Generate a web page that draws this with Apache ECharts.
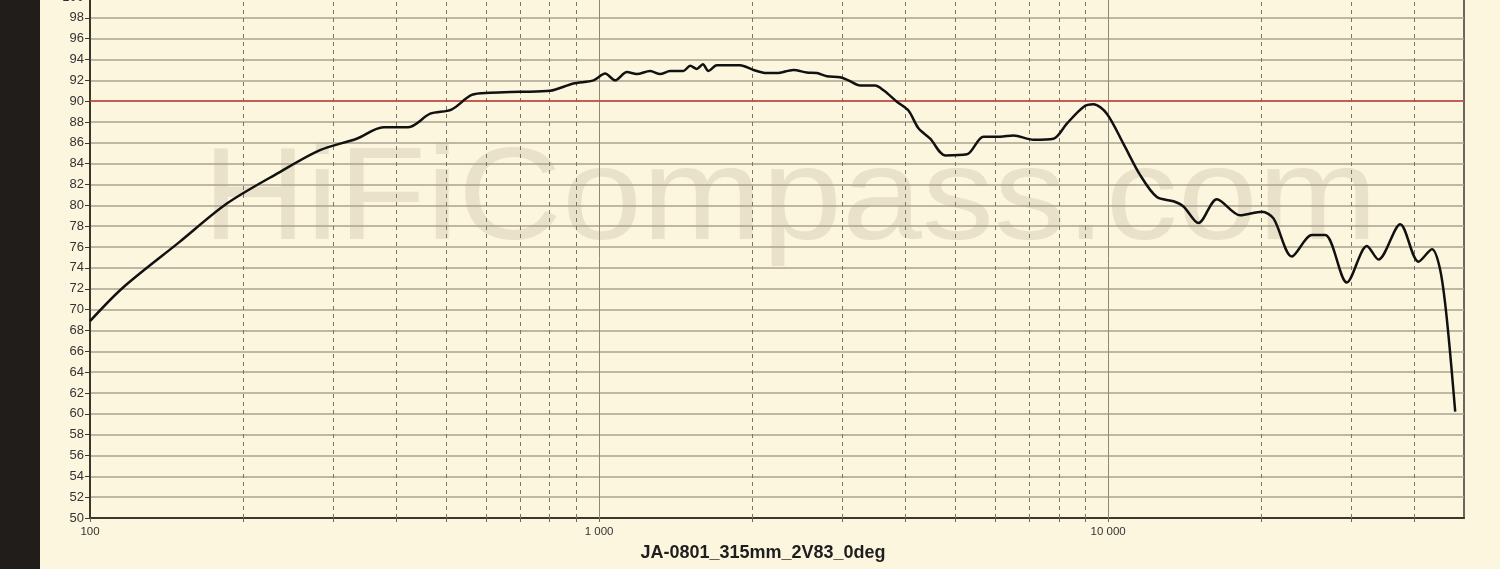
<!DOCTYPE html>
<html>
<head>
<meta charset="utf-8">
<script src="https://cdn.jsdelivr.net/npm/echarts@6/dist/echarts.min.js"></script>
<style>
html,body{margin:0;padding:0;background:#fdf6df;}
#chart{width:1500px;height:569px;}
</style>
</head>
<body>
<div id="chart"></div>
<script>
// Frequency (Hz) and SPL (dB)
const freqHz = [100,116,150,186,236,283,334,377,422,466,513,562,611,700,801,890,
  975,1028,1075,1134,1186,1260,1318,1379,1464,1510,1556,1599,1640,1703,1892,2010,2135,2234,2408,2559,2677,2801,2975,3089,3258,3485,3620,3845,4052,4240,4471,4785,5278,5689,6135,6517,7135,7806,8296,8943,9357,9940,
  10718,11560,12463,13439,14058,15044,16350,18170,20040,21120,22960,25130,26690,29430,32230,33960,37470,40700,43250,44900,46290,48050];
const splDb = [68.9,72.1,76.5,80.2,83.2,85.3,86.4,87.5,87.5,88.8,89.2,90.6,90.8,90.9,91.0,91.7,
  92.0,92.65,92.0,92.8,92.6,92.9,92.6,92.9,92.9,93.4,93.1,93.55,92.9,93.45,93.45,93.0,92.7,92.7,93.0,92.75,92.7,92.4,92.3,92.0,91.5,91.5,91.05,89.95,89.1,87.4,86.4,84.8,84.9,86.6,86.6,86.7,86.3,86.4,87.85,89.45,89.7,88.8,
  85.9,82.9,80.8,80.4,79.9,78.3,80.6,79.05,79.4,78.75,75.1,77.15,77.15,72.6,76.1,74.8,78.2,74.6,75.8,73.8,69.0,60.2];
const minorFreqs = [200,300,400,500,600,700,800,900,2000,3000,4000,5000,6000,7000,8000,9000,20000,30000,40000];
const majorFreqs = [1000,10000];
const tickFreqs = [100,200,300,400,500,600,700,800,900,1000,2000,3000,4000,5000,6000,7000,8000,9000,10000,20000,30000,40000];
const labelFreqs = [100,1000,10000];
const refLevel = 90;
const axisTitle = 'JA-0801_315mm_2V83_0deg';
const watermark = 'HiFiCompass.com';

const chart = echarts.init(document.getElementById('chart'), null, {renderer:'canvas'});
const curve = freqHz.map((f,i)=>[f, splDb[i]]);

const option = {
  backgroundColor: '#fdf6df',
  animation: false,
  grid: {left: 90, right: 36, top: -3, bottom: 51, outerBoundsMode: 'none', containLabel: false,
    show: true, borderColor: '#3c372c', borderWidth: 1.5, backgroundColor: 'transparent'},
  graphic: [
    {type:'rect', left:0, top:0, z:-10, shape:{width:40, height:569}, style:{fill:'#201d1a'}},
    {type:'text', x:790, y:203, scaleX:1.09, z:-10, style:{text: watermark, fill:'#e9e1c9', font:'132px "Liberation Sans", Arial, sans-serif', textAlign:'center', textVerticalAlign:'middle'}},
    {type:'text', x:763, y:553, style:{text: axisTitle, fill:'#1e1e1e', font:'bold 18px "Liberation Sans", Arial, sans-serif', textAlign:'center', textVerticalAlign:'middle'}}
  ],
  xAxis: {
    type: 'log', logBase: 10, min: 100, max: 50000,
    axisLine: {show: true, onZero: false, lineStyle: {color: '#3c372c', width: 2}},
    axisTick: {show: true, length: 4, customValues: tickFreqs, lineStyle: {color: '#6a6558'}},
    axisLabel: {color: '#333', fontSize: 11.5, fontFamily: '"Liberation Sans", Arial, sans-serif', margin: 8,
      customValues: labelFreqs,
      formatter: v => Math.round(v).toString().replace(/\B(?=(\d{3})+(?!\d))/g, ' ')},
    splitLine: {show: false}
  },
  yAxis: {
    type: 'value', min: 50, max: 100, interval: 2,
    axisLine: {show: true, lineStyle: {color: '#3c372c', width: 2}},
    axisTick: {show: true, length: 5, lineStyle: {color: '#3c372c'}},
    axisLabel: {color: '#333', fontSize: 13, fontFamily: '"Liberation Sans", Arial, sans-serif', margin: 6},
    splitLine: {show: true, lineStyle: {color: '#a9a290', width: 1.5}}
  },
  series: [
    {
      type: 'line', data: curve, smooth: 0.3, symbol: 'none', z: 5,
      lineStyle: {color: '#111', width: 2.5},
      markLine: {
        silent: true, symbol: 'none', label: {show: false}, animation: false,
        data: [
          ...minorFreqs.map(f => ({xAxis: f, lineStyle: {color: '#7a756a', width: 1, type: [4, 4]}})),
          ...majorFreqs.map(f => ({xAxis: f, lineStyle: {color: '#8e8878', width: 1, type: 'solid'}})),
          {yAxis: refLevel, lineStyle: {color: '#c8403f', width: 1.5, type: 'solid'}}
        ]
      }
    }
  ]
};
chart.setOption(option);
</script>
</body>
</html>
